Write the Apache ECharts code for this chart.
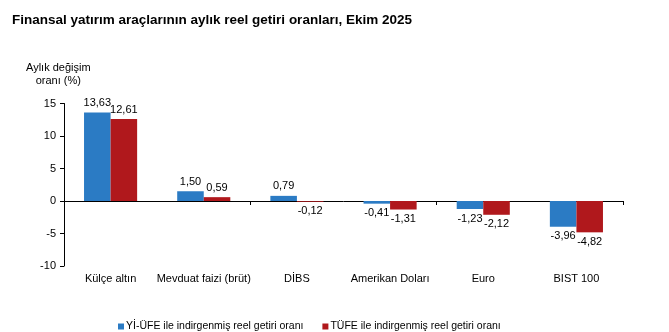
<!DOCTYPE html>
<html>
<head>
<meta charset="utf-8">
<script src="https://cdn.jsdelivr.net/npm/echarts@6/dist/echarts.min.js"></script>
<style>html,body{margin:0;padding:0;background:#fff}#c{width:669px;height:332px}</style>
</head>
<body>
<div id="c"></div>
<script>
var categories = ['Külçe altın', 'Mevduat faizi (brüt)', 'DİBS', 'Amerikan Doları', 'Euro', 'BIST 100'];
var yiUfe = [13.63, 1.50, 0.79, -0.41, -1.23, -3.96];
var tufe = [12.61, 0.59, -0.12, -1.31, -2.12, -4.82];
var seriesNames = ['Yİ-ÜFE ile indirgenmiş reel getiri oranı', 'TÜFE ile indirgenmiş reel getiri oranı'];
var yTicks = [-10, -5, 0, 5, 10, 15];

var FONT = '"Liberation Sans", Arial, sans-serif';
function fmt(v){ return v.toFixed(2).replace('.', ','); }
function items(arr){
  return arr.map(function(v){
    return { value: v, label: { position: v >= 0 ? 'top' : 'bottom' } };
  });
}
var chart = echarts.init(document.getElementById('c'), null, {renderer: 'canvas'});
chart.setOption({
  backgroundColor: '#fff',
  animation: false,
  title: {
    text: 'Finansal yatırım araçlarının aylık reel getiri oranları, Ekim 2025',
    left: 7, top: 8,
    textStyle: { fontFamily: FONT, fontSize: 13.5, fontWeight: 'bold', color: '#000' }
  },
  graphic: [{
    type: 'text', left: 26, top: 61,
    style: { text: 'Aylık değişim\noranı (%)', textAlign: 'center', font: '11px ' + FONT, fill: '#000', lineHeight: 13 }
  }],
  legend: {
    left: 113, top: 316,
    itemWidth: 6, itemHeight: 6, icon: 'rect', itemGap: 19,
    textStyle: { fontFamily: FONT, fontSize: 10.5, color: '#000', padding: [0,0,0,-3] },
    data: seriesNames
  },
  grid: { left: 64, right: 46, top: 103.5, bottom: 66, containLabel: false },
  xAxis: [{
    type: 'category', data: categories,
    axisLine: { onZero: true, lineStyle: { color: '#000', width: 1 } },
    axisTick: { show: true, length: 4, inside: false, lineStyle: { color: '#000' } },
    axisLabel: { show: false }
  }, {
    type: 'category', data: categories, position: 'bottom',
    axisLine: { show: false }, axisTick: { show: false },
    axisLabel: { interval: 0, fontFamily: FONT, fontSize: 11, color: '#000', margin: 7 }
  }],
  yAxis: {
    type: 'value', min: -10, max: 15, interval: 5,
    splitLine: { show: false },
    axisLine: { show: true, lineStyle: { color: '#000' } },
    axisTick: { show: true, length: 4, lineStyle: { color: '#000' } },
    axisLabel: { fontFamily: FONT, fontSize: 11, color: '#000', margin: 8,
      formatter: function(v){ return yTicks.indexOf(v) >= 0 ? String(v) : ''; } }
  },
  series: [{
    name: seriesNames[0], type: 'bar', xAxisIndex: 0, data: items(yiUfe),
    barGap: '0%', barCategoryGap: '43%',
    itemStyle: { color: '#2b7bc4' },
    label: { show: true, distance: 4, fontFamily: FONT, fontSize: 11, color: '#000',
      formatter: function(p){ return fmt(p.value); } }
  }, {
    name: seriesNames[1], type: 'bar', xAxisIndex: 0, data: items(tufe),
    barGap: '0%', barCategoryGap: '43%',
    itemStyle: { color: '#b0181c' },
    label: { show: true, distance: 4, fontFamily: FONT, fontSize: 11, color: '#000',
      formatter: function(p){ return fmt(p.value); } }
  }]
});
</script>
</body>
</html>
